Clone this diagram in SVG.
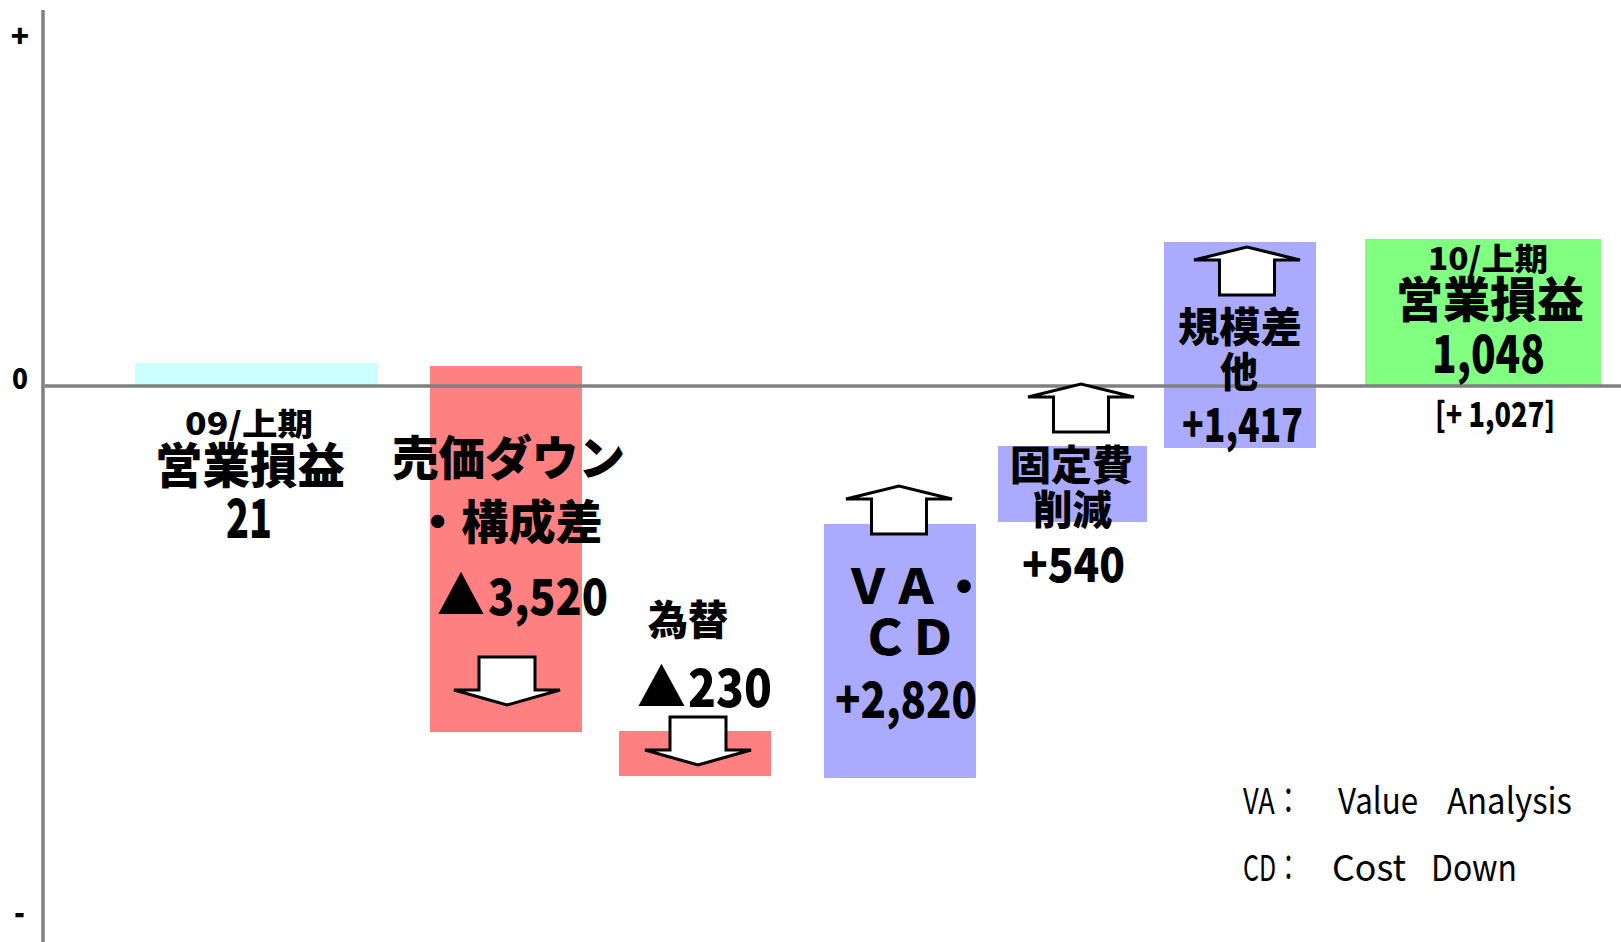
<svg xmlns="http://www.w3.org/2000/svg" width="1621" height="942" viewBox="0 0 1621 942">
<style>
.b{font-family:"Noto Sans CJK JP","Noto Sans",sans-serif;font-weight:900;fill:#000}
.l{font-family:"Noto Sans CJK JP","Noto Sans",sans-serif;font-weight:400;fill:#000;font-size:36px}
.ax{font-family:"Noto Sans CJK JP","Noto Sans",sans-serif;font-weight:900;fill:#000}
.arr{fill:#fff;stroke:#000;stroke-width:3;stroke-linejoin:miter}
.axis{stroke:#808080;stroke-width:3.5;fill:none}
</style>
<defs>
<polygon id="up" class="arr" points="-27.5,0 27.5,0 27.5,-35 53,-35 0,-48 -53,-35 -27.5,-35"/>
<polygon id="down" class="arr" points="-28,0 28,0 28,33 53,33 0,48 -53,33 -28,33"/>
</defs>
<rect width="1621" height="942" fill="#fff"/>

<g id="bars">
<rect id="bar-start" x="135" y="363" width="243" height="23" fill="#CCFFFF"/>
<rect id="bar-price" x="430" y="366" width="152" height="366" fill="#FF8080"/>
<rect id="bar-fx" x="619" y="731" width="152" height="45" fill="#FF8080"/>
<rect id="bar-vacd" x="824" y="524" width="152" height="254" fill="#AAAAFF"/>
<rect id="bar-fixed" x="998" y="446" width="149" height="76" fill="#AAAAFF"/>
<rect id="bar-scale" x="1164" y="242" width="152" height="206" fill="#AAAAFF"/>
<rect id="bar-end" x="1365" y="239" width="236" height="147" fill="#80FF80"/>
</g>

<g id="axes">
<line class="axis" x1="43" y1="10" x2="43" y2="942"/>
<line class="axis" x1="45" y1="386" x2="1621" y2="386"/>
<text class="ax" x="20" y="47" font-size="30" text-anchor="middle">+</text>
<text class="ax" x="12" y="389" font-size="28" textLength="16" lengthAdjust="spacingAndGlyphs">0</text>
<text class="ax" x="14" y="925" font-size="34" textLength="11" lengthAdjust="spacingAndGlyphs">-</text>
</g>

<g id="connectors">
<use href="#down" x="507" y="657"/>
<use href="#down" x="698" y="717"/>
<use href="#up" x="899" y="534"/>
<use href="#up" x="1081" y="432"/>
<use href="#up" x="1247" y="295"/>
</g>

<g id="node-start">
<text class="b" x="185" y="435" font-size="31" textLength="128" lengthAdjust="spacingAndGlyphs">09/上期</text>
<text class="b" x="155" y="483" font-size="48" textLength="190" lengthAdjust="spacingAndGlyphs">営業損益</text>
<text class="b" x="226" y="538" font-size="54" textLength="46" lengthAdjust="spacingAndGlyphs">21</text>
</g>

<g id="node-price">
<text class="b" x="392" y="475" font-size="47" textLength="233" lengthAdjust="spacingAndGlyphs">売価ダウン</text>
<text class="b" x="414" y="539" font-size="47" textLength="189" lengthAdjust="spacingAndGlyphs">・構成差</text>
<text class="b" x="437" y="615" font-size="52" textLength="48" lengthAdjust="spacingAndGlyphs">▲</text>
<text class="b" x="488" y="615" font-size="50" textLength="120" lengthAdjust="spacingAndGlyphs">3,520</text>
</g>

<g id="node-fx">
<text class="b" x="648" y="635" font-size="41" textLength="80" lengthAdjust="spacingAndGlyphs">為替</text>
<text class="b" x="637" y="707" font-size="52" textLength="49" lengthAdjust="spacingAndGlyphs">▲</text>
<text class="b" x="688" y="707" font-size="52" textLength="84" lengthAdjust="spacingAndGlyphs">230</text>
</g>

<g id="node-vacd">
<text class="b" x="844" y="604" font-size="48">ＶＡ・</text>
<text class="b" x="861" y="655" font-size="48">ＣＤ</text>
<text class="b" x="835" y="718" font-size="50" textLength="142" lengthAdjust="spacingAndGlyphs">+2,820</text>
</g>

<g id="node-fixed">
<text class="b" x="1010" y="480" font-size="41" textLength="123" lengthAdjust="spacingAndGlyphs">固定費</text>
<text class="b" x="1033" y="525" font-size="41" textLength="79" lengthAdjust="spacingAndGlyphs">削減</text>
<text class="b" x="1022" y="582" font-size="47" textLength="103" lengthAdjust="spacingAndGlyphs">+540</text>
</g>

<g id="node-scale">
<text class="b" x="1178" y="342" font-size="41" textLength="124" lengthAdjust="spacingAndGlyphs">規模差</text>
<text class="b" x="1220" y="387" font-size="41" textLength="38" lengthAdjust="spacingAndGlyphs">他</text>
<text class="b" x="1182" y="442" font-size="47" textLength="121" lengthAdjust="spacingAndGlyphs">+1,417</text>
</g>

<g id="node-end">
<text class="b" x="1428" y="270" font-size="31" textLength="120" lengthAdjust="spacingAndGlyphs">10/上期</text>
<text class="b" x="1396" y="317" font-size="48" textLength="188" lengthAdjust="spacingAndGlyphs">営業損益</text>
<text class="b" x="1432" y="373" font-size="52" textLength="113" lengthAdjust="spacingAndGlyphs">1,048</text>
<text class="b" x="1435" y="427" font-size="34" textLength="120" lengthAdjust="spacingAndGlyphs">[+ 1,027]</text>
</g>

<g id="legend">
<text class="l" x="1243" y="814" textLength="59" lengthAdjust="spacingAndGlyphs">VA：</text>
<text class="l" x="1338" y="814" textLength="80" lengthAdjust="spacingAndGlyphs">Value</text>
<text class="l" x="1447" y="814" textLength="125" lengthAdjust="spacingAndGlyphs">Analysis</text>
<text class="l" x="1243" y="881" textLength="58" lengthAdjust="spacingAndGlyphs">CD：</text>
<text class="l" x="1332" y="881" textLength="74" lengthAdjust="spacingAndGlyphs">Cost</text>
<text class="l" x="1431" y="881" textLength="86" lengthAdjust="spacingAndGlyphs">Down</text>
</g>
</svg>
